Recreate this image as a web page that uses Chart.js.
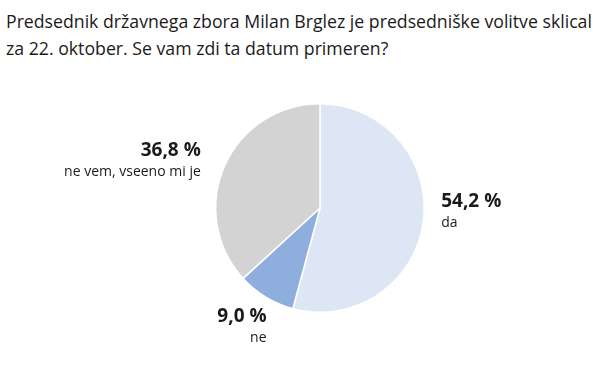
<!DOCTYPE html>
<html>
<head>
<meta charset="utf-8">
<script src="https://cdn.jsdelivr.net/npm/chart.js@4"></script>
<style>
  body { margin: 0; background: #fff; }
  #wrap { position: relative; width: 600px; height: 365px; }
  #title {
    position: absolute; left: 6px; top: 8px; width: 594px;
    font-family: "Open Sans", sans-serif; font-size: 17.7px; line-height: 27px; color: #1a1a1a;
    white-space: nowrap;
  }
  #chartBox { position: absolute; left: 0; top: 0; width: 600px; height: 365px; }
</style>
</head>
<body>
<div id="wrap">
  <div id="title">Predsednik državnega zbora Milan Brglez je predsedniške volitve sklical<br>za 22. oktober. Se vam zdi ta datum primeren?</div>
  <div id="chartBox"><canvas id="pieChart"></canvas></div>
</div>
<script>
// --- data ---
const categories = ['da', 'ne', 'ne vem, vseeno mi je'];
const shares = [54.2, 9.0, 36.8];
const valueLabels = ['54,2 %', '9,0 %', '36,8 %'];
const sliceColors = ['#dce6f5', '#8eaedd', '#d3d3d3'];

// label tweaks per slice (distance from rim, extra dx/dy)
const labelTweaks = [
    { dist: 18, dx: 0, dy: -23 },
    { dist: 12, dx: 7, dy: 9 },
    { dist: 26, dx: 0, dy: -6 }
];

const sliceLabels = {
    id: 'sliceLabels',
    afterDraw(chart) {
        const ctx = chart.ctx;
        const arcs = chart.getDatasetMeta(0).data;
        ctx.save();
        ctx.fillStyle = '#1a1a1a';
        ctx.textBaseline = 'alphabetic';
        arcs.forEach((arc, i) => {
            const mid = (arc.startAngle + arc.endAngle) / 2;
            const t = labelTweaks[i];
            const r = arc.outerRadius + t.dist;
            const x = arc.x + Math.cos(mid) * r + t.dx;
            const y = arc.y + Math.sin(mid) * r + t.dy;
            ctx.textAlign = Math.cos(mid) >= 0 ? 'left' : 'right';
            if (i === 1) ctx.textAlign = 'right';
            ctx.font = 'bold 19px "Open Sans", sans-serif';
            ctx.fillText(valueLabels[i], x, y + 6);
            ctx.font = '14px "Open Sans", sans-serif';
            ctx.fillText(categories[i], x, y + 26);
        });
        ctx.restore();
    }
};

new Chart(document.getElementById('pieChart'), {
    type: 'pie',
    data: {
        labels: categories,
        datasets: [{
            data: shares,
            backgroundColor: sliceColors,
            borderColor: '#ffffff',
            borderWidth: 1.5
        }]
    },
    options: {
        responsive: true,
        maintainAspectRatio: false,
        animation: false,
        layout: { padding: { top: 103, bottom: 52, left: 215, right: 175 } },
        plugins: {
            legend: { display: false },
            tooltip: { enabled: false }
        }
    },
    plugins: [sliceLabels]
});
</script>
</body>
</html>
